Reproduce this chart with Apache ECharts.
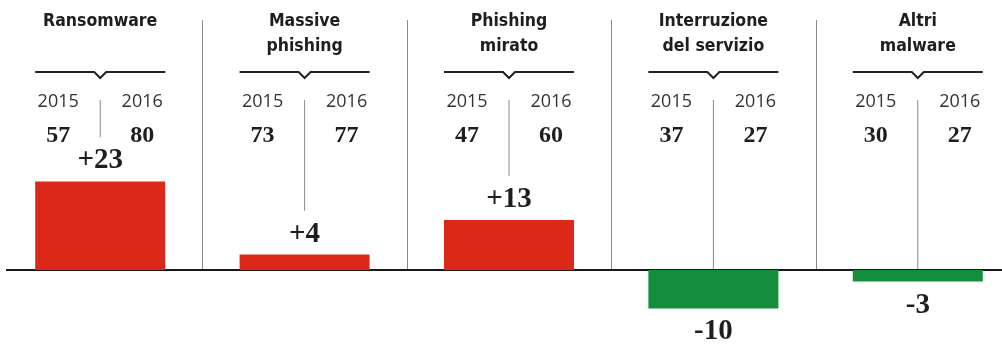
<!DOCTYPE html>
<html>
<head>
<meta charset="utf-8">
<script src="https://cdn.jsdelivr.net/npm/echarts@6/dist/echarts.min.js"></script>
<style>
  html, body { margin: 0; padding: 0; background: #ffffff; }
  #chart { width: 1002px; height: 349px; }
</style>
</head>
<body>
<div id="chart"></div>
<script>
// Attack categories (headers, line-broken as printed)
const categories = ['Ransomware', 'Massive\nphishing', 'Phishing\nmirato', 'Interruzione\ndel servizio', 'Altri\nmalware'];
const years = ['2015', '2016'];
// Counts per year
const values2015 = [57, 73, 47, 37, 30];
const values2016 = [80, 77, 60, 27, 27];
// Year-on-year change shown by the bars
const change = [23, 4, 13, -10, -3];

const RED = '#db2819';
const GREEN = '#128e3c';
const INK = '#1e1e1e';
const HEAD_FONT = 'bold 17.5px "DejaVu Sans Condensed", "Liberation Sans Narrow", "Open Sans", sans-serif';
const YEAR_FONT = '18px "Open Sans", "DejaVu Sans", sans-serif';
const NUM_FONT = 'bold 24px "Liberation Serif", "DejaVu Serif", serif';

const chart = echarts.init(document.getElementById('chart'), null, { renderer: 'canvas' });

function renderColumn(params, api) {
  const i = api.value(0);
  const base = api.coord([i, 0]);
  const cx = base[0];
  const y0 = base[1];
  const band = api.size([1, 0])[0];
  const top = api.coord([i, change[i]])[1];
  const half = 42;
  const children = [];

  // Category header
  children.push({
    type: 'text',
    style: {
      text: categories[i], x: cx, y: 9, align: 'center', verticalAlign: 'top',
      font: HEAD_FONT, lineHeight: 25, fill: INK
    }
  });

  // Brace under the header
  children.push({
    type: 'polyline',
    shape: { points: [[cx - 65, 72], [cx - 6, 72], [cx, 78], [cx + 6, 72], [cx + 65, 72]] },
    style: { stroke: '#222', lineWidth: 2, fill: null }
  });

  // Year labels and their values
  [[years[0], values2015[i], -half], [years[1], values2016[i], half]].forEach(function (c) {
    children.push({
      type: 'text',
      style: { text: c[0], x: cx + c[2], y: 102, align: 'center', verticalAlign: 'middle', font: YEAR_FONT, fill: '#333' }
    });
    children.push({
      type: 'text',
      style: { text: String(c[1]), x: cx + c[2], y: 136, align: 'center', verticalAlign: 'middle', font: NUM_FONT, fill: INK }
    });
  });

  // Divider between the two years, running down to the change label or the baseline
  const lineEnd = change[i] > 0 ? top - 44 : y0;
  children.push({
    type: 'line',
    shape: { x1: cx, y1: 100, x2: cx, y2: lineEnd },
    style: { stroke: '#8a8a8a', lineWidth: 1 }
  });

  // Separator between categories
  if (i < categories.length - 1) {
    const sx = Math.round(cx + band / 2) + 0.5;
    children.push({
      type: 'line',
      shape: { x1: sx, y1: 20, x2: sx, y2: y0 },
      style: { stroke: '#8a8a8a', lineWidth: 1 }
    });
  }

  // Zero baseline
  if (i === 0) {
    children.push({
      type: 'line',
      shape: { x1: 6, y1: y0, x2: 1002, y2: y0 },
      style: { stroke: '#1a1a1a', lineWidth: 2 },
      z2: 10
    });
  }

  return { type: 'group', children: children };
}

chart.setOption({
  animation: false,
  backgroundColor: '#ffffff',
  grid: { left: -2, right: -18, top: 0.5, bottom: 2, outerBoundsMode: 'none', containLabel: false },
  xAxis: {
    type: 'category',
    data: categories,
    axisLine: { show: false },
    axisTick: { show: false },
    axisLabel: { show: false },
    splitLine: { show: false }
  },
  yAxis: {
    type: 'value',
    min: -20,
    max: 70,
    show: false,
    splitLine: { show: false }
  },
  series: [
    {
      type: 'custom',
      renderItem: renderColumn,
      data: categories.map(function (_, i) { return [i]; }),
      z: 1,
      silent: true
    },
    {
      type: 'bar',
      data: change.map(function (v) {
        return {
          value: v,
          itemStyle: { color: v >= 0 ? RED : GREEN },
          label: { position: v >= 0 ? 'top' : 'bottom', distance: v >= 0 ? 6 : 9 }
        };
      }),
      barWidth: 130,
      z: 2,
      label: {
        show: true,
        fontFamily: '"Liberation Serif", "DejaVu Serif", serif',
        fontWeight: 'bold',
        fontSize: 29,
        color: INK,
        formatter: function (p) { return (p.value > 0 ? '+' : '') + p.value; }
      }
    }
  ]
});
</script>
</body>
</html>
